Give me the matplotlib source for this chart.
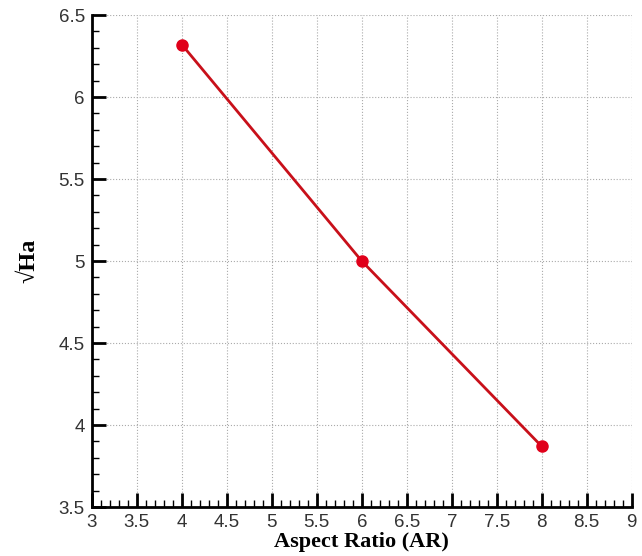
import numpy as np
import matplotlib
matplotlib.use("Agg")
import matplotlib.pyplot as plt
from matplotlib.ticker import MultipleLocator

aspect_ratio = [4, 6, 8]
sqrt_ha = [6.32, 5.0, 3.87]

x_ticks = [3, 3.5, 4, 4.5, 5, 5.5, 6, 6.5, 7, 7.5, 8, 8.5, 9]
y_ticks = [3.5, 4, 4.5, 5, 5.5, 6, 6.5]


def fmt(v):
    return f"{v:g}"


fig = plt.figure(figsize=(6.42, 5.56), dpi=100)
ax = fig.add_axes([0.143, 0.088, 0.841, 0.885])

ax.plot(aspect_ratio, sqrt_ha, color="#c8101a", lw=2, marker="o", ms=8,
        mfc="#e0001a", mec="#e0001a", zorder=3)

ax.set_xlim(3, 9)
ax.set_ylim(3.5, 6.5)
ax.set_xticks(x_ticks)
ax.set_xticklabels([fmt(v) for v in x_ticks])
ax.set_yticks(y_ticks)
ax.set_yticklabels([fmt(v) for v in y_ticks])
ax.xaxis.set_minor_locator(MultipleLocator(0.1))
ax.yaxis.set_minor_locator(MultipleLocator(0.1))

ax.tick_params(which="major", direction="in", length=10, width=2,
               labelsize=13.5, colors="black", pad=5)
ax.tick_params(which="minor", direction="in", length=5, width=1)
for lab in ax.get_xticklabels() + ax.get_yticklabels():
    lab.set_family("Liberation Sans")
    lab.set_color("#333333")

for s in ["top", "right"]:
    ax.spines[s].set_visible(False)
for s in ["left", "bottom"]:
    ax.spines[s].set_linewidth(2)

ax.grid(True, which="major", color="#aaaaaa", ls=":", lw=0.8)

ax.set_xlabel("Aspect Ratio (AR)", family="Liberation Serif", fontsize=16,
              fontweight="bold", labelpad=1)
ax.set_ylabel("\u221aHa", family=["Liberation Serif", "DejaVu Serif"], fontsize=17.5,
              fontweight="bold", labelpad=14)

fig.savefig("out.png", dpi=100)
